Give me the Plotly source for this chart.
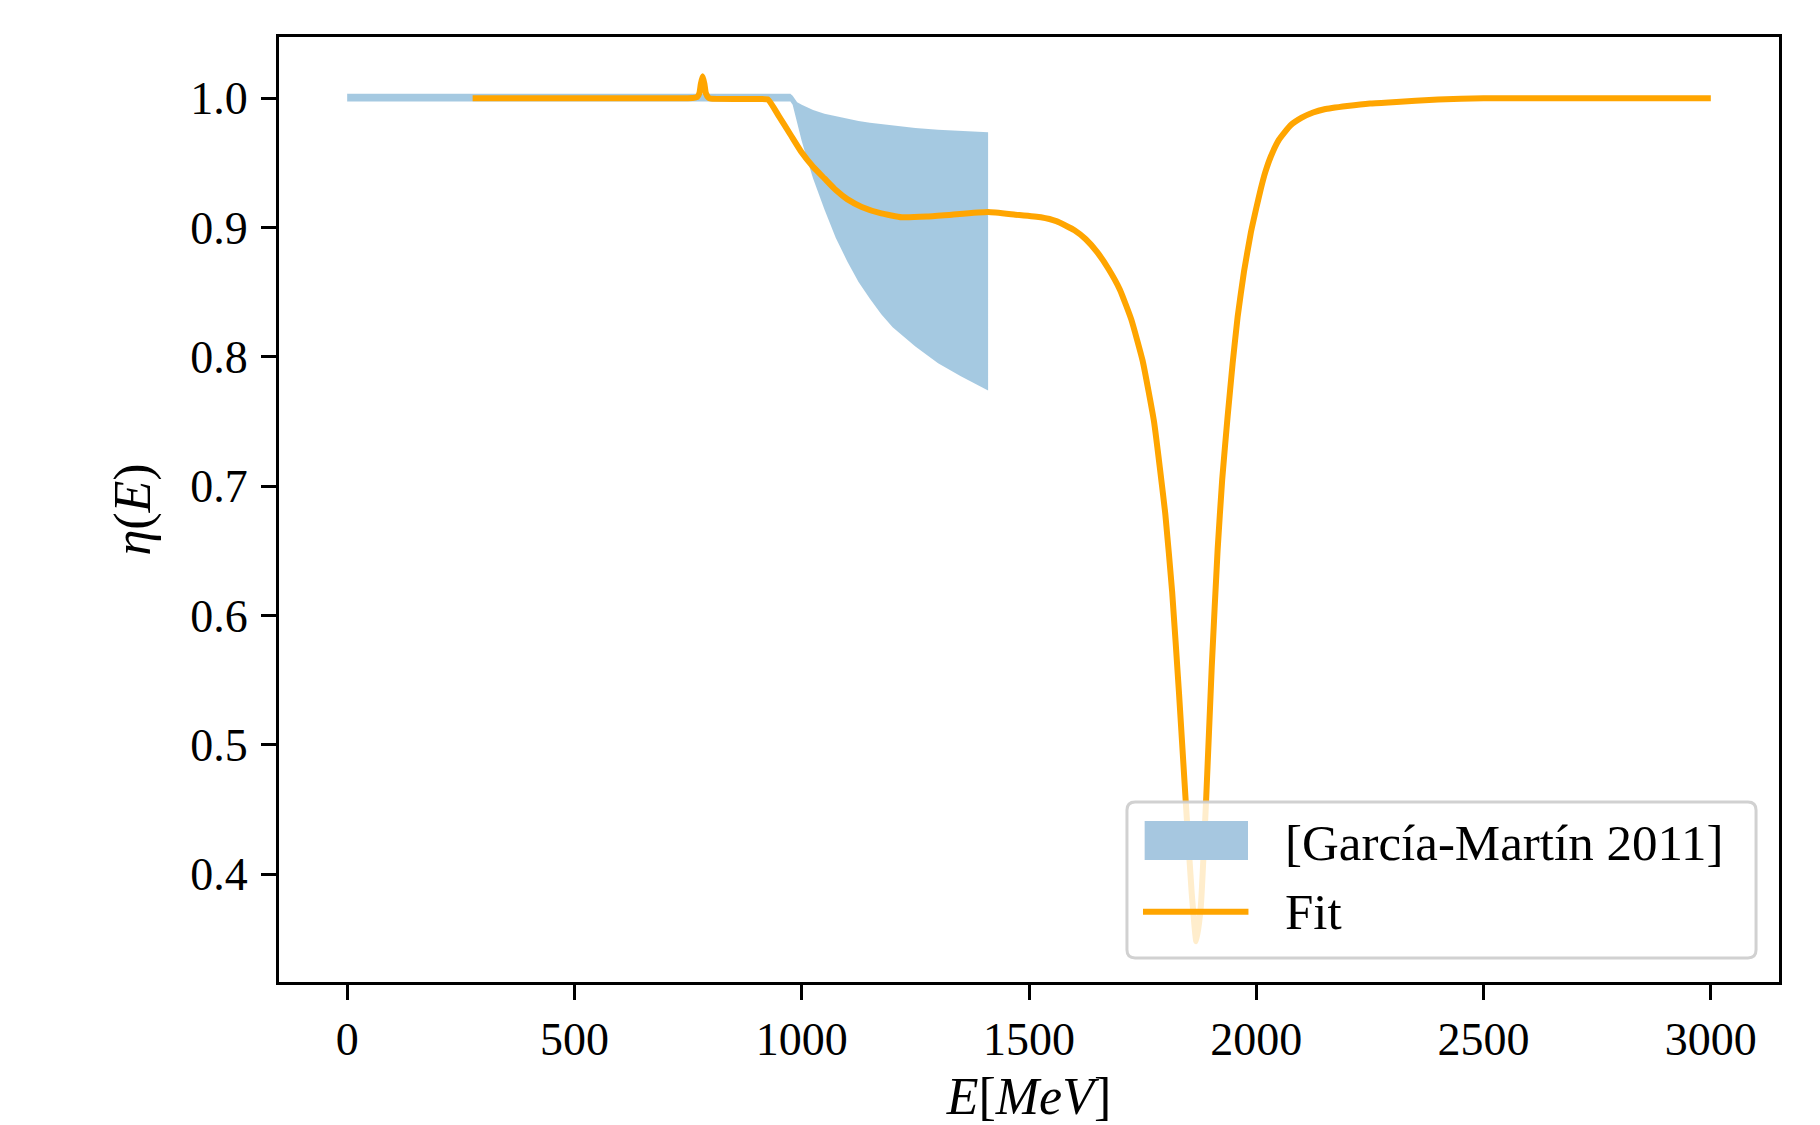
import plotly.graph_objects as go

# ---------------- data ----------------
band_E = [0, 500, 960, 975, 980, 985, 990, 1000, 1010, 1025, 1050, 1075, 1100,
          1125, 1150, 1175, 1200, 1250, 1300, 1350, 1410]
band_upper = [1.0035, 1.0035, 1.0035, 1.0035, 1.002, 0.9995, 0.997, 0.995, 0.9935,
              0.991, 0.988, 0.986, 0.984, 0.9825, 0.981, 0.980, 0.979, 0.977,
              0.9757, 0.9747, 0.9737]
band_lower = [0.9975, 0.9975, 0.9975, 0.9975, 0.995, 0.988, 0.980, 0.967, 0.955,
              0.938, 0.914, 0.892, 0.874, 0.858, 0.845, 0.833, 0.823, 0.808,
              0.795, 0.785, 0.774]

fit_E = [276, 500, 700, 760, 770, 775, 778, 782, 786, 789, 795, 800, 900, 926,
         950, 975, 1000, 1025, 1050, 1075, 1100, 1132, 1175, 1220, 1275,
         1330, 1410, 1470, 1526, 1560, 1600, 1625, 1650, 1675, 1700, 1725, 1750,
         1775, 1800, 1815, 1830, 1845, 1858, 1868, 1878, 1890, 1902, 1915, 1925,
         1937, 1948, 1959, 1973, 1988, 2000, 2010, 2020, 2032, 2050, 2075, 2100,
         2125, 2150, 2200, 2250, 2300, 2400, 2500, 2700, 3000]
fit_eta = [1.0, 1.0, 1.0, 1.0003, 1.001, 1.004, 1.011, 1.017, 1.011, 1.004, 1.0005,
           0.9997, 0.9995, 0.999, 0.986, 0.972, 0.958, 0.947, 0.938, 0.929, 0.922,
           0.916, 0.911, 0.908, 0.9085, 0.910, 0.912, 0.910, 0.908, 0.905, 0.898,
           0.891, 0.881, 0.868, 0.852, 0.829, 0.797, 0.750, 0.678, 0.618, 0.540,
           0.455, 0.385, 0.348, 0.375, 0.460, 0.560, 0.651, 0.705, 0.754, 0.795,
           0.831, 0.866, 0.896, 0.915, 0.930, 0.943, 0.955, 0.968, 0.979, 0.985,
           0.989, 0.9915, 0.994, 0.996, 0.997, 0.999, 1.0, 1.0, 1.0]

x_ticks = [0, 500, 1000, 1500, 2000, 2500, 3000]
x_tick_labels = ["0", "500", "1000", "1500", "2000", "2500", "3000"]
y_ticks = [0.4, 0.5, 0.6, 0.7, 0.8, 0.9, 1.0]
y_tick_labels = ["0.4", "0.5", "0.6", "0.7", "0.8", "0.9", "1.0"]

band_label = "[García-Martín 2011]"
fit_label = "Fit"

# ---------------- figure ----------------
FONT = "Liberation Serif"
BAND_COLOR = "rgba(31,119,180,0.4)"
FIT_COLOR = "rgb(255,165,0)"

fig = go.Figure()
fig.add_trace(go.Scatter(x=band_E, y=band_lower, mode="lines",
                         line=dict(width=0, color=BAND_COLOR),
                         showlegend=False, hoverinfo="skip"))
fig.add_trace(go.Scatter(x=band_E, y=band_upper, mode="lines", fill="tonexty",
                         fillcolor=BAND_COLOR,
                         line=dict(width=0, color=BAND_COLOR),
                         name=band_label, showlegend=False))
fig.add_trace(go.Scatter(x=fit_E, y=fit_eta, mode="lines",
                         line=dict(width=6, color=FIT_COLOR, shape="spline", smoothing=0.4),
                         name=fit_label, showlegend=False))

axis_common = dict(showgrid=False, zeroline=False, showline=True, linewidth=3,
                   linecolor="black", mirror=True, ticks="outside", ticklen=15,
                   tickwidth=3, tickcolor="black",
                   tickfont=dict(family=FONT, size=46, color="black"))

fig.update_xaxes(range=[-150, 3150], tickvals=x_ticks, ticktext=x_tick_labels,
                 title=dict(text="<i>E</i>[<i>MeV</i>]", font=dict(family=FONT, size=52, color="black"),
                            standoff=18),
                 **axis_common)
fig.update_yaxes(range=[0.3165, 1.0474], tickvals=y_ticks, ticktext=y_tick_labels,
                 ticklabelstandoff=4,
                 title=dict(text="<i>η</i>(<i>E</i>)", font=dict(family=FONT, size=52, color="black"),
                            standoff=24),
                 **axis_common)

# ---------------- legend (drawn in paper coordinates) ----------------
lx0, lx1, ly0, ly1 = 0.5653, 0.9847, 0.0254, 0.1905
rx, ry = 0.0055, 0.0087
frame_path = (f"M{lx0+rx},{ly0} L{lx1-rx},{ly0} Q{lx1},{ly0} {lx1},{ly0+ry} "
              f"L{lx1},{ly1-ry} Q{lx1},{ly1} {lx1-rx},{ly1} L{lx0+rx},{ly1} "
              f"Q{lx0},{ly1} {lx0},{ly1-ry} L{lx0},{ly0+ry} Q{lx0},{ly0} {lx0+rx},{ly0} Z")
fig.add_shape(type="path", path=frame_path, xref="paper", yref="paper",
              fillcolor="rgba(255,255,255,0.8)", line=dict(color="rgba(204,204,204,0.9)", width=3),
              layer="above")
fig.add_shape(type="rect", xref="paper", yref="paper", x0=0.5771, x1=0.6460, y0=0.1291, y1=0.1704,
              fillcolor="rgb(166,199,224)", line=dict(width=0), layer="above")
fig.add_shape(type="line", xref="paper", yref="paper", x0=0.5760, x1=0.6463, y0=0.0744, y1=0.0744,
              line=dict(color=FIT_COLOR, width=6), layer="above")
fig.add_annotation(x=0.6690, y=0.147, xref="paper", yref="paper", text=band_label,
                   showarrow=False, xanchor="left", yanchor="middle",
                   font=dict(family=FONT, size=51, color="black"))
fig.add_annotation(x=0.6690, y=0.074, xref="paper", yref="paper", text=fit_label,
                   showarrow=False, xanchor="left", yanchor="middle",
                   font=dict(family=FONT, size=51, color="black"))

fig.update_layout(width=1820, height=1125, paper_bgcolor="white", plot_bgcolor="white",
                  margin=dict(l=279, r=41, t=37, b=143, autoexpand=False),
                  showlegend=False, font=dict(family=FONT, color="black"))

fig.write_html("out.html")
